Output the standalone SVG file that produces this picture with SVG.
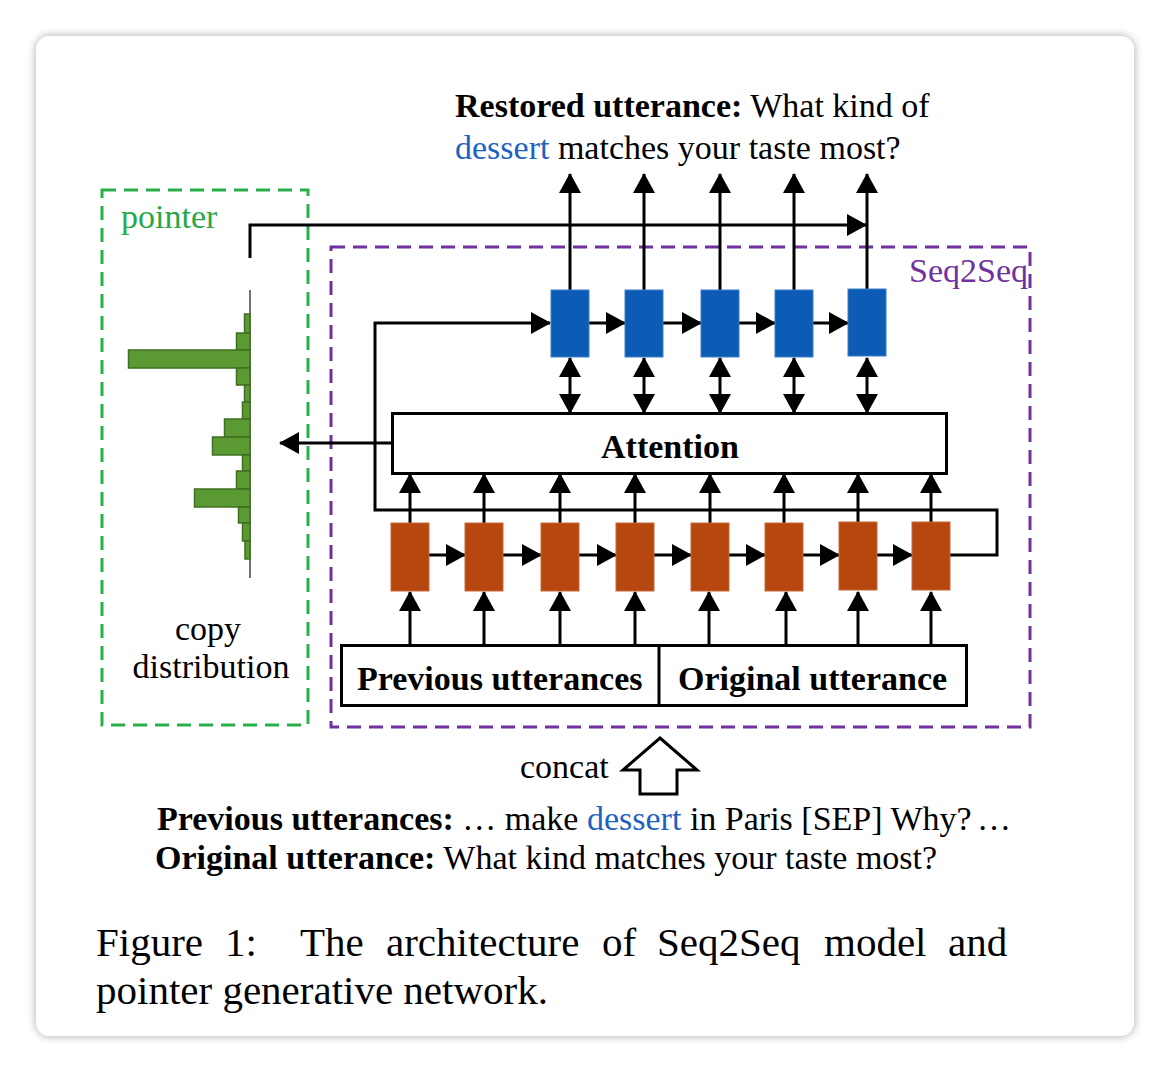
<svg xmlns="http://www.w3.org/2000/svg" width="1170" height="1072" viewBox="0 0 1170 1072">
<style>
text{font-family:"Liberation Serif","Times New Roman",serif;font-size:34px;fill:#000}
.b{font-weight:bold}
.blue{fill:#1d62c2}
.cap{font-size:41px}
.ln{fill:none;stroke:#000;stroke-width:3}
.enc{fill:#b5470f;stroke:#c8683a;stroke-width:1}
.dec{fill:#0c5bb4;stroke:#3f7fcc;stroke-width:1}
.bar{fill:#5b9a32;stroke:#3f6f21;stroke-width:1.5}
.box{fill:#fff;stroke:#000;stroke-width:3}
</style>
<defs>
<filter id="sh" x="-5%" y="-5%" width="110%" height="110%">
<feGaussianBlur in="SourceAlpha" stdDeviation="5"/>
<feComponentTransfer><feFuncA type="linear" slope="0.35"/></feComponentTransfer>
<feMerge><feMergeNode/><feMergeNode in="SourceGraphic"/></feMerge>
</filter>
<marker id="ah" markerUnits="userSpaceOnUse" markerWidth="20" markerHeight="22" refX="19" refY="11" orient="auto-start-reverse">
<path d="M0,0 L20,11 L0,22 z" fill="#000"/>
</marker>
</defs>
<rect width="1170" height="1072" fill="#fff"/>
<rect x="36" y="36" width="1098" height="1000" rx="14" fill="#fff" filter="url(#sh)"/>

<g id="top-text">
<text x="455" y="117"><tspan class="b">Restored utterance:</tspan> What kind of</text>
<text x="455" y="159"><tspan class="blue">dessert</tspan> matches your taste most?</text>
</g>

<g id="pointer-box">
<rect x="102" y="190" width="206" height="535" fill="none" stroke="#27b04a" stroke-width="3" stroke-dasharray="14 8"/>
<text x="121" y="228" style="fill:#27a846">pointer</text>
</g>

<g id="seq2seq-box">
<rect x="331" y="247" width="699" height="480" fill="none" stroke="#7030a0" stroke-width="3" stroke-dasharray="14 8"/>
<text x="909" y="282" style="fill:#7030a0">Seq2Seq</text>
</g>

<g id="copy-distribution">
<line x1="250" y1="290" x2="250" y2="578" stroke="#444" stroke-width="1.5"/>
<rect class="bar" x="244.5" y="314" width="5.5" height="19"/>
<rect class="bar" x="236.5" y="333" width="13.5" height="17"/>
<rect class="bar" x="128.5" y="350" width="121.5" height="18"/>
<rect class="bar" x="236.5" y="368" width="13.5" height="17"/>
<rect class="bar" x="244.5" y="385" width="5.5" height="17"/>
<rect class="bar" x="242.5" y="402" width="7.5" height="17"/>
<rect class="bar" x="224.5" y="419" width="25.5" height="18"/>
<rect class="bar" x="212.5" y="437" width="37.5" height="18"/>
<rect class="bar" x="242.5" y="455" width="7.5" height="16"/>
<rect class="bar" x="236.5" y="471" width="13.5" height="18"/>
<rect class="bar" x="194.5" y="489" width="55.5" height="18"/>
<rect class="bar" x="238.5" y="507" width="11.5" height="16"/>
<rect class="bar" x="242.5" y="523" width="7.5" height="18"/>
<rect class="bar" x="245" y="541" width="5" height="18"/>
<text x="208" y="640" text-anchor="middle">copy</text>
<text x="211" y="678" text-anchor="middle">distribution</text>
</g>

<g id="connectors">
<polyline class="ln" points="250,258 250,225 866,225" marker-end="url(#ah)"/>
<line class="ln" x1="570" y1="290" x2="570" y2="174" marker-end="url(#ah)"/>
<line class="ln" x1="644" y1="290" x2="644" y2="174" marker-end="url(#ah)"/>
<line class="ln" x1="720" y1="290" x2="720" y2="174" marker-end="url(#ah)"/>
<line class="ln" x1="794" y1="290" x2="794" y2="174" marker-end="url(#ah)"/>
<line class="ln" x1="867" y1="290" x2="867" y2="174" marker-end="url(#ah)"/>
<line class="ln" x1="570" y1="358" x2="570" y2="413" marker-start="url(#ah)" marker-end="url(#ah)"/>
<line class="ln" x1="644" y1="358" x2="644" y2="413" marker-start="url(#ah)" marker-end="url(#ah)"/>
<line class="ln" x1="720" y1="358" x2="720" y2="413" marker-start="url(#ah)" marker-end="url(#ah)"/>
<line class="ln" x1="794" y1="358" x2="794" y2="413" marker-start="url(#ah)" marker-end="url(#ah)"/>
<line class="ln" x1="867" y1="358" x2="867" y2="413" marker-start="url(#ah)" marker-end="url(#ah)"/>
<line class="ln" x1="589" y1="323" x2="625" y2="323" marker-end="url(#ah)"/>
<line class="ln" x1="663" y1="323" x2="701" y2="323" marker-end="url(#ah)"/>
<line class="ln" x1="739" y1="323" x2="775" y2="323" marker-end="url(#ah)"/>
<line class="ln" x1="813" y1="323" x2="848" y2="323" marker-end="url(#ah)"/>
<polyline class="ln" points="949,555 997,555 997,510 375,510 375,323 550,323" marker-end="url(#ah)"/>
<line class="ln" x1="392" y1="443" x2="280" y2="443" marker-end="url(#ah)"/>
<line class="ln" x1="410" y1="523" x2="410" y2="474" marker-end="url(#ah)"/>
<line class="ln" x1="484" y1="523" x2="484" y2="474" marker-end="url(#ah)"/>
<line class="ln" x1="560" y1="523" x2="560" y2="474" marker-end="url(#ah)"/>
<line class="ln" x1="635" y1="523" x2="635" y2="474" marker-end="url(#ah)"/>
<line class="ln" x1="710" y1="523" x2="710" y2="474" marker-end="url(#ah)"/>
<line class="ln" x1="784" y1="523" x2="784" y2="474" marker-end="url(#ah)"/>
<line class="ln" x1="858" y1="523" x2="858" y2="474" marker-end="url(#ah)"/>
<line class="ln" x1="931" y1="523" x2="931" y2="474" marker-end="url(#ah)"/>
<line class="ln" x1="429" y1="555" x2="465" y2="555" marker-end="url(#ah)"/>
<line class="ln" x1="503" y1="555" x2="541" y2="555" marker-end="url(#ah)"/>
<line class="ln" x1="579" y1="555" x2="616" y2="555" marker-end="url(#ah)"/>
<line class="ln" x1="654" y1="555" x2="691" y2="555" marker-end="url(#ah)"/>
<line class="ln" x1="729" y1="555" x2="765" y2="555" marker-end="url(#ah)"/>
<line class="ln" x1="803" y1="555" x2="839" y2="555" marker-end="url(#ah)"/>
<line class="ln" x1="877" y1="555" x2="912" y2="555" marker-end="url(#ah)"/>
<line class="ln" x1="410" y1="645" x2="410" y2="592" marker-end="url(#ah)"/>
<line class="ln" x1="484" y1="645" x2="484" y2="592" marker-end="url(#ah)"/>
<line class="ln" x1="560" y1="645" x2="560" y2="592" marker-end="url(#ah)"/>
<line class="ln" x1="635" y1="645" x2="635" y2="592" marker-end="url(#ah)"/>
<line class="ln" x1="709" y1="645" x2="709" y2="592" marker-end="url(#ah)"/>
<line class="ln" x1="786" y1="645" x2="786" y2="592" marker-end="url(#ah)"/>
<line class="ln" x1="858" y1="645" x2="858" y2="592" marker-end="url(#ah)"/>
<line class="ln" x1="931" y1="645" x2="931" y2="592" marker-end="url(#ah)"/>
</g>

<g id="decoder">
<rect class="dec" x="551" y="290" width="38" height="67"/>
<rect class="dec" x="625" y="290" width="38" height="67"/>
<rect class="dec" x="701" y="290" width="38" height="67"/>
<rect class="dec" x="775" y="290" width="38" height="67"/>
<rect class="dec" x="848" y="289" width="38" height="67"/>
</g>

<g id="attention">
<rect class="box" x="392.5" y="413.5" width="554" height="60"/>
<text class="b" x="670" y="458" text-anchor="middle">Attention</text>
</g>

<g id="encoder">
<rect class="enc" x="391" y="523" width="38" height="68"/>
<rect class="enc" x="465" y="523" width="38" height="68"/>
<rect class="enc" x="541" y="523" width="38" height="68"/>
<rect class="enc" x="616" y="523" width="38" height="68"/>
<rect class="enc" x="691" y="523" width="38" height="68"/>
<rect class="enc" x="765" y="523" width="38" height="68"/>
<rect class="enc" x="839" y="522" width="38" height="68"/>
<rect class="enc" x="912" y="522" width="38" height="68"/>
</g>

<g id="input">
<rect class="box" x="341.5" y="645.5" width="625" height="60"/>
<line class="ln" x1="659" y1="645.5" x2="659" y2="705.5"/>
<text class="b" x="357" y="690">Previous utterances</text>
<text class="b" x="678" y="690">Original utterance</text>
</g>

<g id="concat">
<polygon points="660,738 697,770 677,770 677,794 640,794 640,770 623,770" fill="#fff" stroke="#000" stroke-width="3" stroke-linejoin="miter"/>
<text x="520" y="778">concat</text>
</g>

<g id="bottom-text">
<text x="157" y="830"><tspan class="b">Previous utterances:</tspan> … make <tspan class="blue">dessert</tspan> in Paris [SEP] Why?</text>
<text x="977" y="830">…</text>
<text x="155" y="869"><tspan class="b">Original utterance:</tspan> What kind matches your taste most?</text>
</g>

<g id="caption">
<text class="cap" y="956"><tspan x="96">Figure</tspan><tspan x="225">1:</tspan><tspan x="300">The</tspan><tspan x="386">architecture</tspan><tspan x="602">of</tspan><tspan x="657">Seq2Seq</tspan><tspan x="824">model</tspan><tspan x="948">and</tspan></text>
<text class="cap" x="96" y="1004">pointer generative network.</text>
</g>
</svg>
